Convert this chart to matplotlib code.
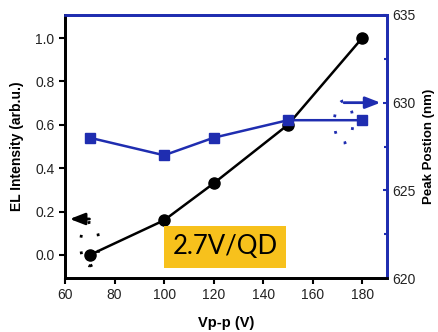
import matplotlib
matplotlib.use("Agg")
import matplotlib.pyplot as plt
from matplotlib.patches import Ellipse

plt.rcParams['font.family'] = ['Liberation Sans', 'DejaVu Sans']

vpp = [70, 100, 120, 150, 180]
el_intensity = [0.0, 0.16, 0.33, 0.60, 1.0]
peak_pos = [628, 627, 628, 629, 629]
x_ticks = [60, 80, 100, 120, 140, 160, 180]
left_ticks = [0.0, 0.2, 0.4, 0.6, 0.8, 1.0]
right_ticks = [620, 625, 630, 635]

blue = '#1f2db0'

fig = plt.figure(figsize=(4.38, 3.32), dpi=100)
ax = fig.add_axes([65/438, 1-278/332, (387-65)/438, (278-15)/332])
ax2 = ax.twinx()

ax.plot(vpp, el_intensity, color='black', lw=1.8, marker='o', ms=8, zorder=3)
ax2.plot(vpp, peak_pos, color=blue, lw=1.8, marker='s', ms=6.5, zorder=3)

ax.set_xlim(60, 190)
ax.set_ylim(-0.106, 1.106)
ax2.set_ylim(620, 635)

ax.set_xticks(x_ticks)
ax.set_yticks(left_ticks)
ax.set_yticklabels([f"{v:.1f}" for v in left_ticks])
ax2.set_yticks(right_ticks)
ax2.set_yticks([622.5, 627.5, 632.5], minor=True)

ax.tick_params(axis='both', direction='out', length=4, width=1.5, labelsize=10, colors='black')
ax.tick_params(axis='both', labelcolor='#222222')
ax2.tick_params(axis='y', which='major', direction='in', length=3, width=1.5, color=blue, labelsize=10, labelcolor='#222222', pad=4)
ax2.tick_params(axis='y', which='minor', direction='in', length=2, width=1.5, color=blue)

for a in (ax, ax2):
    a.spines['left'].set_color('black')
    a.spines['bottom'].set_color('black')
    a.spines['top'].set_color(blue)
    a.spines['right'].set_color(blue)
    for s in a.spines.values():
        s.set_linewidth(2)

ax.set_xlabel('Vp-p (V)', fontsize=10.5, fontweight='bold', labelpad=10)
ax.set_ylabel('EL Intensity (arb.u.)', fontsize=10, fontweight='bold', labelpad=8)
ax2.set_ylabel('Peak Postion (nm)', fontsize=9.5, fontweight='bold', labelpad=5)

# arrows
ax.annotate('', xy=(60.8, 0.166), xytext=(71, 0.166),
            arrowprops=dict(arrowstyle='-|>,head_length=0.9,head_width=0.35', color='black', lw=2))
ax2.annotate('', xy=(188.5, 630), xytext=(171.5, 630),
             arrowprops=dict(arrowstyle='-|>,head_length=0.9,head_width=0.35', color=blue, lw=2))

# dotted ellipses
ax.add_patch(Ellipse((70, 0.05), 7.5, 0.2, fill=False, ls=(0, (1, 5)), lw=2, color='black'))
ax2.add_patch(Ellipse((172.5, 628.9), 7.5, 2.4, fill=False, ls=(0, (1, 5)), lw=2, color=blue))

# label box
fig.text(225/438, 1-247/332, '2.7V/QD', fontsize=18.5, family=['Lato', 'DejaVu Sans'],
         ha='center', va='center', color='black',
         bbox=dict(boxstyle='square,pad=0.33', fc='#f7c11c', ec='none'))

fig.savefig('out.png', dpi=100)
